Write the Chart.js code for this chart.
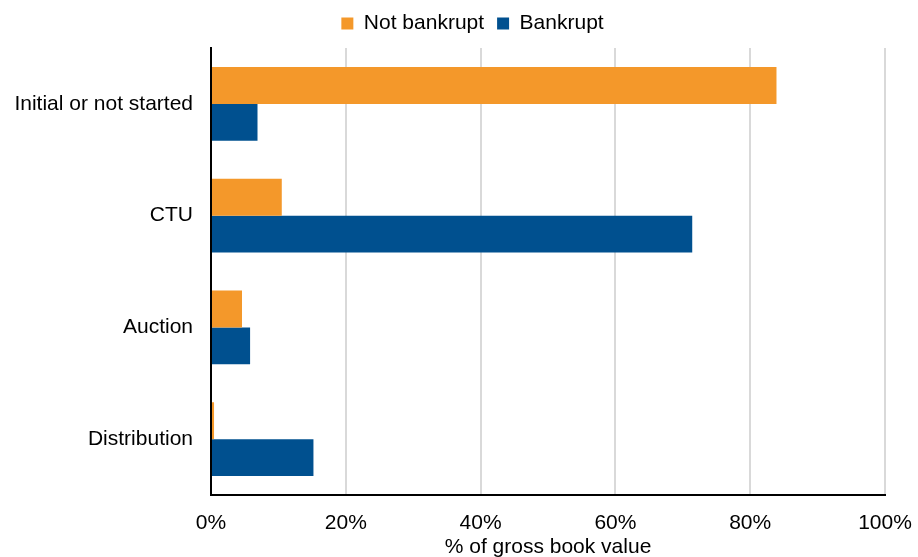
<!DOCTYPE html>
<html lang="en">
<head>
    <meta charset="UTF-8">
    <title>Gross book value by stage</title>
    <script src="https://cdn.jsdelivr.net/npm/chart.js"></script>
    <style>
        html, body {
            margin: 0;
            padding: 0;
            background: #fff;
        }
        .chart-container {
            width: 918px;
            height: 557px;
        }
    </style>
</head>
<body>
    <div class="chart-container">
        <canvas id="stageChart"></canvas>
    </div>

    <script>
        // Data
        const categories = ['Initial or not started', 'CTU', 'Auction', 'Distribution'];
        const notBankrupt = [83.9, 10.5, 4.6, 0.45];
        const bankrupt = [6.9, 71.4, 5.8, 15.2];
        const xTicks = [0, 20, 40, 60, 80, 100];

        const font = { family: '"Liberation Sans", Arial, sans-serif', size: 21 };

        // fixed legend height so the plot starts where the reference does,
        // and the legend sits a bit right of centre like in the original
        const legendTweak = {
            id: 'legendTweak',
            afterInit: function(chart) {
                const fit = chart.legend.fit;
                chart.legend.fit = function() {
                    fit.call(this);
                    this.height = 48;
                };
            },
            afterLayout: function(chart) {
                chart.legend.left += 30;
                chart.legend.right += 30;
            }
        };

        const ctx = document.getElementById('stageChart').getContext('2d');
        const stageChart = new Chart(ctx, {
            type: 'bar',
            data: {
                labels: categories,
                datasets: [{
                    label: 'Not bankrupt',
                    data: notBankrupt,
                    backgroundColor: '#F4982A'
                }, {
                    label: 'Bankrupt',
                    data: bankrupt,
                    backgroundColor: '#00508F'
                }]
            },
            options: {
                indexAxis: 'y',
                responsive: true,
                maintainAspectRatio: false,
                animation: false,
                layout: {
                    padding: { left: 0, right: 33, top: 0, bottom: 0 }
                },
                datasets: {
                    bar: {
                        barPercentage: 1,
                        categoryPercentage: 0.66
                    }
                },
                scales: {
                    x: {
                        min: 0,
                        max: 100,
                        afterBuildTicks: function(scale) {
                            scale.ticks = xTicks.map(v => ({ value: v }));
                        },
                        afterFit: function(scale) {
                            scale.height = 62;
                            scale.paddingLeft = 0;
                            scale.paddingRight = 0;
                        },
                        grid: {
                            color: '#D9D9D9',
                            lineWidth: 2,
                            drawTicks: false
                        },
                        border: {
                            color: '#000',
                            width: 2
                        },
                        ticks: {
                            color: '#000',
                            font: font,
                            padding: 16,
                            callback: function(value) {
                                return value + '%';
                            }
                        },
                        title: {
                            display: true,
                            text: '% of gross book value',
                            color: '#000',
                            font: font,
                            padding: { top: 0, bottom: -3 }
                        }
                    },
                    y: {
                        afterFit: function(scale) {
                            scale.width = 211;
                        },
                        grid: {
                            display: false
                        },
                        border: {
                            color: '#000',
                            width: 2
                        },
                        ticks: {
                            color: '#000',
                            font: font,
                            padding: 10
                        }
                    }
                },
                plugins: {
                    legend: {
                        position: 'top',
                        labels: {
                            color: '#000',
                            font: font,
                            boxWidth: 12,
                            boxHeight: 12,
                            padding: 13,
                            useBorderRadius: false
                        }
                    },
                    tooltip: {
                        callbacks: {
                            label: function(context) {
                                return context.dataset.label + ': ' + context.parsed.x + '%';
                            }
                        }
                    }
                }
            },
            plugins: [legendTweak]
        });
    </script>
</body>
</html>
